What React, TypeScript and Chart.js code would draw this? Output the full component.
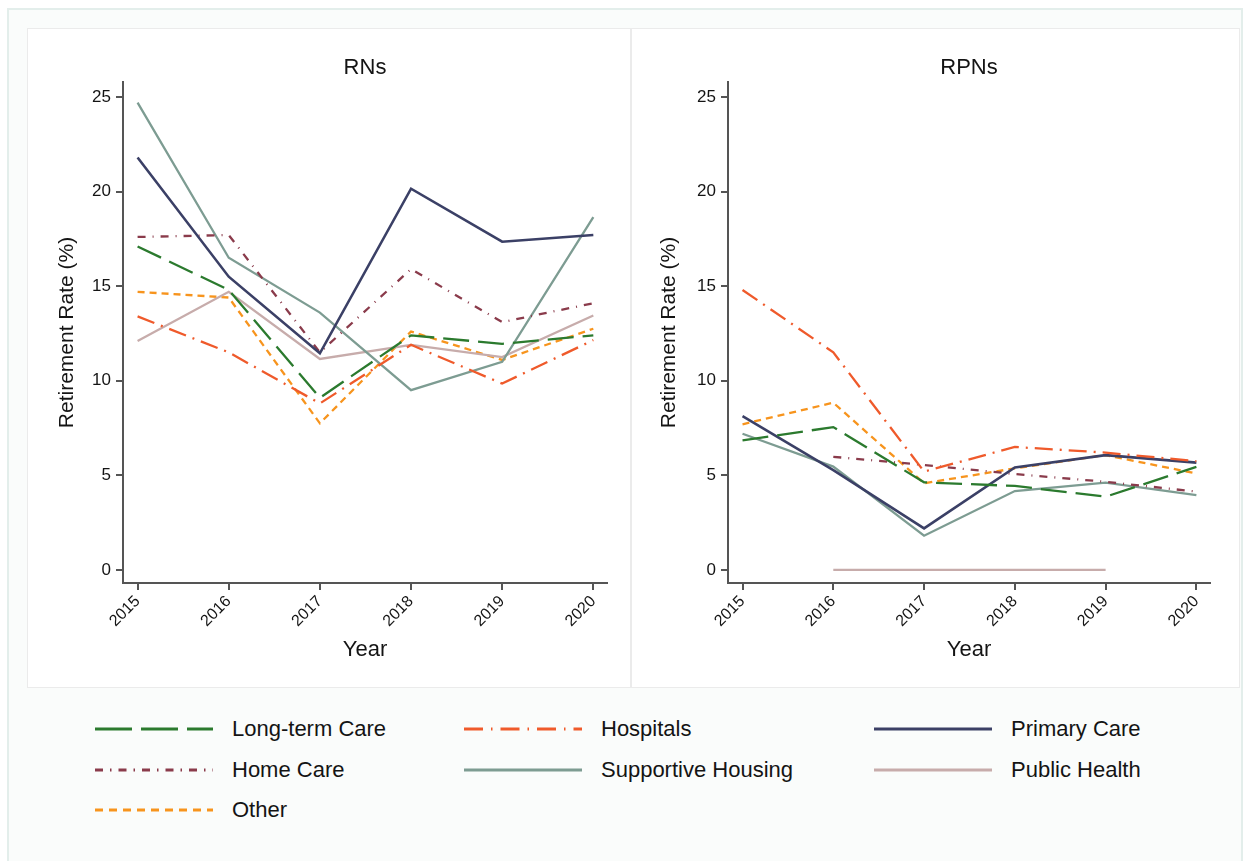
import React, { useEffect, useRef } from "react";
import { Chart, registerables } from "chart.js";

Chart.register(...registerables);

const years = [2015, 2016, 2017, 2018, 2019, 2020];
const yTicks = [0, 5, 10, 15, 20, 25];

const seriesNames = [
  "Long-term Care",
  "Hospitals",
  "Primary Care",
  "Home Care",
  "Supportive Housing",
  "Public Health",
  "Other",
];

// RNs
const rnLongTermCare = [17.1, 14.8, 9.1, 12.4, 11.95, 12.4];
const rnHospitals = [13.4, 11.5, 8.8, 11.9, 9.85, 12.15];
const rnPrimaryCare = [21.8, 15.5, 11.45, 20.15, 17.35, 17.7];
const rnHomeCare = [17.6, 17.7, 11.5, 15.9, 13.1, 14.1];
const rnSupportiveHousing = [24.7, 16.5, 13.6, 9.5, 11.0, 18.65];
const rnPublicHealth = [12.1, 14.7, 11.15, 11.9, 11.25, 13.45];
const rnOther = [14.7, 14.4, 7.75, 12.6, 11.1, 12.75];

// RPNs
const rpnLongTermCare = [6.85, 7.55, 4.63, 4.44, 3.87, 5.45];
const rpnHospitals = [14.8, 11.5, 5.2, 6.5, 6.2, 5.75];
const rpnPrimaryCare = [8.13, 5.28, 2.2, 5.42, 6.07, 5.67];
const rpnHomeCare = [null, 5.98, 5.55, 5.07, 4.66, 4.14];
const rpnSupportiveHousing = [7.2, 5.46, 1.81, 4.17, 4.61, 3.96];
const rpnPublicHealth = [null, 0, 0, 0, 0, null];
const rpnOther = [7.7, 8.84, 4.58, 5.37, 6.07, 5.1];

const colors = ["#2b7a2e", "#ef5a2b", "#3b4066", "#8a3b4b", "#7d9c92", "#c7acab", "#f7941d"];
const widths = [2.3, 2.3, 2.6, 2.3, 2.3, 2.3, 2.3];
const chartDashes: number[][] = [[26, 9], [18, 7, 2, 7], [], [8, 7, 1, 7], [], [], [7, 5]];
const legendDashes = ["37 9", "19 8 1.5 8", "", "8 7 1.5 7", "", "", "8 6"];

const rnData = [rnLongTermCare, rnHospitals, rnPrimaryCare, rnHomeCare, rnSupportiveHousing, rnPublicHealth, rnOther];
const rpnData = [rpnLongTermCare, rpnHospitals, rpnPrimaryCare, rpnHomeCare, rpnSupportiveHousing, rpnPublicHealth, rpnOther];

const FONT = '"Liberation Sans", Arial, Helvetica, sans-serif';
const TEXT = "#141414";

const panelTitlePlugin = {
  id: "panelTitle",
  afterDraw(chart: any, _args: any, opts: any) {
    const { ctx, chartArea } = chart;
    ctx.save();
    ctx.fillStyle = TEXT;
    ctx.font = `22px ${FONT}`;
    ctx.textAlign = "center";
    ctx.textBaseline = "middle";
    ctx.fillText(opts.text, (chartArea.left + chartArea.right) / 2, 39);
    ctx.restore();
  },
};

function Panel(props: { title: string; data: (number | null)[][]; width: number; height: number; yWidth: number; rightPad: number; yTitlePad: number }) {
  const ref = useRef<HTMLCanvasElement>(null);
  useEffect(() => {
    if (!ref.current) return;
    const datasets = seriesNames.map((name, i) => ({
      label: name,
      data: years.map((yr, j) => ({ x: yr, y: props.data[i][j] })),
      borderColor: colors[i],
      backgroundColor: colors[i],
      borderWidth: widths[i],
      borderDash: chartDashes[i],
      pointRadius: 0,
      fill: false,
      tension: 0,
      spanGaps: false,
    }));
    const chart = new Chart(ref.current, {
      type: "line",
      data: { datasets },
      plugins: [panelTitlePlugin],
      options: {
        responsive: false,
        animation: false,
        devicePixelRatio: 1,
        layout: { padding: { left: 0, right: props.rightPad, top: 53, bottom: 0 } },
        plugins: {
          legend: { display: false },
          tooltip: { enabled: false },
          title: { display: false },
          panelTitle: { text: props.title },
        },
        scales: {
          x: {
            type: "linear",
            min: 2014.84,
            max: 2020.15,
            afterBuildTicks: (s: any) => {
              s.ticks = years.map((v) => ({ value: v }));
            },
            afterFit: (s: any) => {
              s.height = 104;
            },
            ticks: {
              autoSkip: false,
              maxRotation: 45,
              minRotation: 45,
              padding: 2,
              color: TEXT,
              font: { family: FONT, size: 16 },
              callback: (v: any) => String(v),
            },
            grid: { drawOnChartArea: false, drawTicks: true, tickLength: 7, color: "#555", lineWidth: 2 },
            border: { display: true, color: "#555", width: 2 },
            title: {
              display: true,
              text: "Year",
              color: TEXT,
              font: { family: FONT, size: 22 },
              padding: { top: 0, bottom: 24 },
            },
          },
          y: {
            type: "linear",
            min: -0.69,
            max: 25.79,
            afterBuildTicks: (s: any) => {
              s.ticks = yTicks.map((v) => ({ value: v }));
            },
            afterFit: (s: any) => {
              s.width = props.yWidth;
            },
            ticks: {
              padding: 5,
              color: TEXT,
              font: { family: FONT, size: 17 },
              callback: (v: any) => String(v),
            },
            grid: { drawOnChartArea: false, drawTicks: true, tickLength: 7, color: "#555", lineWidth: 2 },
            border: { display: true, color: "#555", width: 2 },
            title: {
              display: true,
              text: "Retirement Rate (%)",
              color: TEXT,
              font: { family: FONT, size: 21 },
              padding: { top: props.yTitlePad, bottom: 0 },
            },
          },
        },
      } as any,
    });
    return () => chart.destroy();
  }, []);
  return <canvas ref={ref} width={props.width} height={props.height} style={{ width: props.width, height: props.height, display: "block" }} />;
}

const legendCols = [95, 464, 874];
const legendRows = [729, 770, 810];

export default function App() {
  return (
    <div style={{ position: "absolute", left: 0, top: 0, width: 1250, height: 861, background: "#fff", overflow: "hidden", fontFamily: FONT }}>
      <div
        style={{
          position: "absolute",
          left: 7,
          top: 8,
          width: 1232,
          height: 860,
          borderLeft: "2px solid #e3eeeb",
          borderTop: "2px solid #e3eeeb",
          borderRight: "2px solid #e3eeeb",
          background: "#fafcfb",
        }}
      />
      <div style={{ position: "absolute", left: 27, top: 28, width: 602, height: 658, border: "1px solid #ebebeb", background: "#fff" }}>
        <Panel title="RNs" data={rnData} width={602} height={658} yWidth={95} rightPad={23} yTitlePad={27} />
      </div>
      <div style={{ position: "absolute", left: 631, top: 28, width: 607, height: 658, border: "1px solid #ebebeb", background: "#fff" }}>
        <Panel title="RPNs" data={rpnData} width={607} height={658} yWidth={96} rightPad={29} yTitlePad={25} />
      </div>
      {seriesNames.map((name, i) => {
        const col = i % 3;
        const row = Math.floor(i / 3);
        const x = legendCols[col];
        const y = legendRows[row];
        return (
          <div key={name} style={{ position: "absolute", left: x, top: y - 15, height: 30, width: 360 }}>
            <svg width={120} height={30} style={{ position: "absolute", left: 0, top: 0 }}>
              <line
                x1={0}
                y1={15}
                x2={118}
                y2={15}
                stroke={colors[i]}
                strokeWidth={3}
                strokeDasharray={legendDashes[i] || undefined}
              />
            </svg>
            <span style={{ position: "absolute", left: 137, top: 0, lineHeight: "30px", fontSize: 22, color: TEXT, whiteSpace: "nowrap" }}>{name}</span>
          </div>
        );
      })}
    </div>
  );
}
